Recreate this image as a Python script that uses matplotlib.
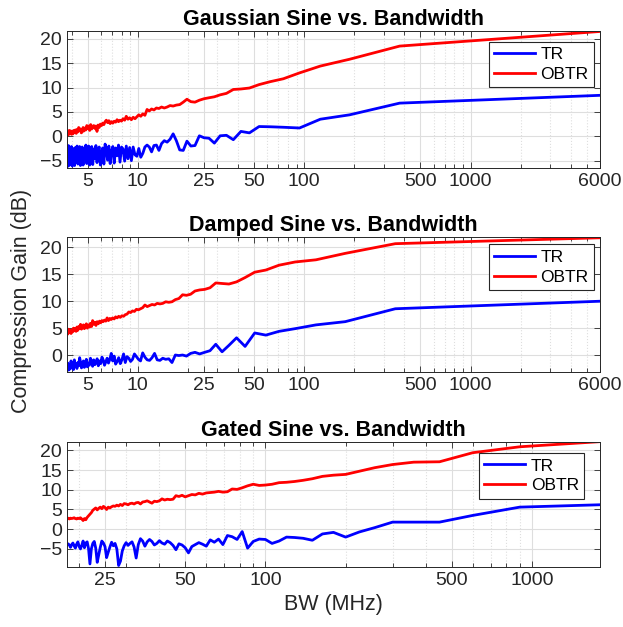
import numpy as np
import matplotlib.pyplot as plt
from matplotlib.ticker import LogLocator, NullFormatter

plt.rcParams['font.family'] = ['Liberation Sans', 'DejaVu Sans']

# BW sampling grids (MHz): one wide-band point, then BW0/k for k = 1..100
k = np.arange(1, 101)
bw_gauss = np.concatenate([[6000], 375 / k])
bw_damped = np.concatenate([[6000], 353 / k])
bw_gated = 1800 / k

# ---- Gaussian sine (6000 MHz point first, then k = 1..100) ----
gauss_tr = [8.4,
            6.8, 4.4, 3.5, 1.7, 1.85, 1.95, 2.0, 0.7, 1.0, -0.7,
            0.2, 0.1, -1.4, -0.4, -0.3, 0.1, -1.9, -2.0, -1.0, -2.9,
            -2.8, -0.9, 0.5, -0.6, -1.2, -0.9, -1.5, -2.9, -1.8, -1.9,
            -3.2, -2.2, -1.8, -2.2, -3.5, -4.3, -2.5, -4.1, -3.8, -2.2,
            -5.0, -2.3, -4.6, -2.0, -5.1, -2.6, -2.2, -5.3, -1.8, -4.0,
            -2.4, -5.5, -2.1, -3.0, -5.6, -2.0, -4.9, -2.6, -1.6, -5.7,
            -2.4, -3.4, -5.9, -2.2, -2.8, -5.4, -1.9, -4.6, -2.6, -5.8,
            -2.1, -3.3, -5.9, -2.0, -2.9, -5.6, -1.8, -4.4, -2.5, -5.9,
            -2.2, -3.6, -6.0, -2.1, -2.7, -5.7, -2.0, -4.8, -2.3, -6.0,
            -2.5, -3.2, -6.1, -2.1, -4.9, -2.3, -6.0, -1.9, -5.4, -6.4]
gauss_obtr = [21.5,
              18.5, 15.8, 14.4, 13.0, 11.8, 11.2, 10.6, 9.9, 9.7, 9.6,
              8.8, 8.5, 8.1, 7.9, 7.7, 7.4, 7.0, 7.1, 7.6, 7.0,
              6.5, 6.4, 6.2, 6.3, 6.0, 5.8, 6.0, 5.7, 5.8, 5.4,
              5.6, 5.2, 5.5, 4.3, 4.6, 4.1, 4.4, 4.0, 3.6, 3.9,
              3.4, 3.8, 3.5, 4.1, 3.3, 3.6, 3.1, 3.3, 3.0, 3.4,
              2.9, 3.1, 2.7, 3.0, 2.6, 3.2, 2.8, 3.3, 3.0, 2.4,
              2.7, 2.2, 2.5, 1.8, 2.3, 1.0, 2.1, 1.6, 2.2, 2.0,
              1.5, 2.4, 1.2, 2.1, 1.6, 2.2, 1.3, 1.7, 1.1, 1.8,
              0.9, 0.7, 1.5, 1.2, 1.8, 0.9, 1.4, 0.6, 1.3, 0.8,
              1.2, 0.5, 1.0, 0.4, 1.1, 0.7, 1.2, 0.3, 0.8, 0.2]

# ---- Damped sine ----
damped_tr = [10.0,
             8.6, 6.2, 5.6, 4.9, 4.4, 3.7, 4.1, 1.6, 3.2, 1.8,
             0.6, 2.0, 0.8, 0.5, 0.2, 0.5, 0.3, -0.2, 0.0, -0.1,
             0.0, -1.4, -0.7, -0.8, -0.6, -1.0, -0.9, 0.3, -0.5, -1.0,
             -0.9, -0.4, 0.4, -1.1, -0.8, -0.3, 0.2, -0.8, -1.2, -0.6,
             -0.3, -1.4, 0.2, -0.9, -1.6, -0.5, -1.2, -1.7, -0.2, -1.1,
             0.3, -0.8, -1.5, -0.6, -1.3, -1.9, -0.9, -0.4, -1.6, -1.1,
             -2.0, -0.7, -1.4, -1.8, -0.9, -2.1, -1.2, -0.6, -1.9, -1.5,
             -2.2, -0.8, -1.7, -2.3, -1.1, -1.8, -2.4, -1.3, -0.5, -2.0,
             -1.4, -2.5, -1.6, -2.2, -0.9, -2.7, -1.8, -2.3, -1.1, -2.6,
             -2.0, -2.8, -1.5, -2.4, -2.9, -1.9, -2.6, -2.2, -2.9, -2.5]
damped_obtr = [21.8,
               20.7, 18.9, 17.7, 17.3, 16.7, 15.8, 15.4, 14.4, 13.6, 13.2,
               13.3, 13.4, 12.5, 12.2, 12.1, 11.9, 11.3, 11.1, 11.2, 10.5,
               10.3, 9.9, 9.8, 9.9, 9.6, 9.5, 9.6, 9.3, 9.4, 9.2,
               9.0, 9.3, 8.8, 8.6, 8.4, 8.5, 8.1, 8.2, 7.9, 8.0,
               7.6, 7.5, 7.2, 7.3, 7.0, 7.2, 6.9, 7.1, 6.7, 6.9,
               6.6, 6.8, 6.4, 6.9, 6.3, 6.5, 6.2, 6.4, 6.0, 6.3,
               5.8, 6.2, 5.5, 6.1, 5.7, 6.4, 5.3, 5.9, 5.2, 5.6,
               5.0, 5.8, 5.4, 4.9, 5.6, 5.1, 4.8, 5.7, 4.9, 5.3,
               4.6, 5.2, 4.4, 4.9, 4.5, 5.0, 4.3, 4.7, 4.0, 4.6,
               4.2, 4.8, 3.9, 4.4, 4.1, 3.8, 4.5, 3.9, 4.2, 3.7]

# ---- Gated sine (k = 1..100) ----
gated_tr = [6.2, 5.6, 3.5, 1.8, 1.8, 1.8, 0.4, -0.7, -2.0, -0.8,
            -1.2, -2.8, -2.3, -2.1, -2.0, -3.0, -3.6, -2.6, -2.5, -3.1,
            -4.8, -0.6, -2.6, -1.9, -1.6, -3.9, -2.5, -3.3, -2.7, -4.3,
            -3.8, -3.4, -3.9, -4.4, -6.0, -4.7, -4.0, -3.7, -5.2, -4.1,
            -3.4, -3.0, -3.8, -3.5, -2.9, -3.6, -4.0, -3.1, -2.6, -3.2,
            -4.3, -3.0, -2.4, -3.9, -7.3, -4.5, -3.2, -3.6, -4.1, -3.4,
            -4.2, -5.5, -8.1, -9.2, -5.0, -3.6, -4.2, -3.3, -4.5, -5.8,
            -7.2, -4.4, -3.5, -3.0, -4.6, -6.5, -8.4, -4.8, -3.1, -3.6,
            -5.0, -8.8, -4.9, -3.2, -3.5, -4.7, -3.0, -4.1, -5.0, -4.4,
            -3.2, -3.8, -4.8, -4.2, -3.5, -3.9, -4.6, -4.0, -3.7, -4.0]
gated_obtr = [22.2, 20.9, 19.4, 17.1, 17.0, 16.4, 15.6, 14.7, 13.9, 13.7,
              13.4, 12.8, 12.4, 12.1, 11.9, 11.8, 11.4, 11.2, 11.1, 11.4,
              11.0, 10.5, 10.1, 10.2, 9.5, 9.4, 9.6, 9.4, 9.3, 9.2,
              8.9, 9.1, 8.7, 8.8, 8.5, 8.2, 8.6, 8.3, 8.5, 7.6,
              7.5, 7.6, 7.4, 7.7, 7.2, 7.0, 7.1, 6.6, 6.9, 7.2,
              7.0, 6.9, 6.4, 6.8, 6.7, 6.4, 6.6, 6.5, 6.2, 6.4,
              6.5, 6.0, 6.3, 5.9, 6.1, 5.8, 5.9, 5.7, 5.4, 5.6,
              5.0, 5.5, 5.8, 5.2, 5.6, 5.3, 4.9, 5.4, 5.1, 4.8,
              4.2, 3.8, 3.4, 3.0, 2.4, 2.7, 2.2, 2.6, 2.9, 2.7,
              2.8, 2.6, 2.7, 2.9, 2.8, 2.7, 2.8, 2.6, 2.8, 2.7]

wide_ticks = [5, 10, 25, 50, 100, 500, 1000, 6000]
gated_ticks = [25, 50, 100, 500, 1000]
y_ticks = [-5, 0, 5, 10, 15, 20]

GRAY = '#262626'

fig = plt.figure(figsize=(6.23, 6.27), dpi=100)


def make_panel(rect, bw, tr, obtr, title, xticks, xlim, ylim, leg_anchor):
    ax = fig.add_axes(rect)
    ax.plot(bw, tr, color='blue', lw=2, label='TR')
    ax.plot(bw, obtr, color='red', lw=2, label='OBTR')
    ax.set_xscale('log')
    ax.set_xticks(xticks)
    ax.set_xticklabels([str(t) for t in xticks])
    ax.xaxis.set_minor_locator(LogLocator(base=10, subs=np.arange(2, 10)))
    ax.xaxis.set_minor_formatter(NullFormatter())
    ax.set_yticks(y_ticks)
    # limits after the ticks, otherwise set_yticks widens the view
    ax.set_xlim(xlim)
    ax.set_ylim(ylim)
    ax.tick_params(which='both', direction='in', top=True, right=True,
                   colors=GRAY, labelsize=14, width=0.6)
    ax.tick_params(which='major', length=4)
    ax.tick_params(which='minor', length=3)
    ax.grid(which='major', color='#dedede', lw=0.8)
    ax.grid(which='minor', axis='x', color='#dedede', ls=':', lw=0.8)
    ax.set_axisbelow(True)
    for s in ax.spines.values():
        s.set_color(GRAY)
        s.set_linewidth(0.7)
    ax.set_title(title, fontsize=15.5, fontweight='bold', pad=4)
    leg = ax.legend(loc='upper right', bbox_to_anchor=leg_anchor, borderaxespad=0,
                    fontsize=12.5, handlelength=2.4, handletextpad=0.3,
                    labelspacing=0.27, borderpad=0.3, fancybox=False,
                    edgecolor=GRAY, framealpha=1)
    leg.get_frame().set_linewidth(0.8)
    return ax


ax1 = make_panel([0.1075, 0.7321, 0.8555, 0.2185], bw_gauss, gauss_tr, gauss_obtr,
                 'Gaussian Sine vs. Bandwidth', wide_ticks, (3.75, 6000), (-6.5, 21.6),
                 (0.9887, 0.9226))
ax2 = make_panel([0.1075, 0.4072, 0.8555, 0.2153], bw_damped, damped_tr, damped_obtr,
                 'Damped Sine vs. Bandwidth', wide_ticks, (3.75, 6000), (-3.1, 22.0),
                 (0.9887, 0.943))
ax3 = make_panel([0.1075, 0.0962, 0.8555, 0.1994], bw_gated, gated_tr, gated_obtr,
                 'Gated Sine vs. Bandwidth', gated_ticks, (18, 1800), (-9.5, 22.2),
                 (0.970, 0.908))
ax3.set_xlabel('BW (MHz)', fontsize=15.5, color=GRAY, labelpad=4)

fig.text(22 / 623, 1 - 301 / 627, 'Compression Gain (dB)', rotation=90,
         ha='center', va='center', fontsize=15.5, color=GRAY)

fig.savefig('out.png', dpi=100)
